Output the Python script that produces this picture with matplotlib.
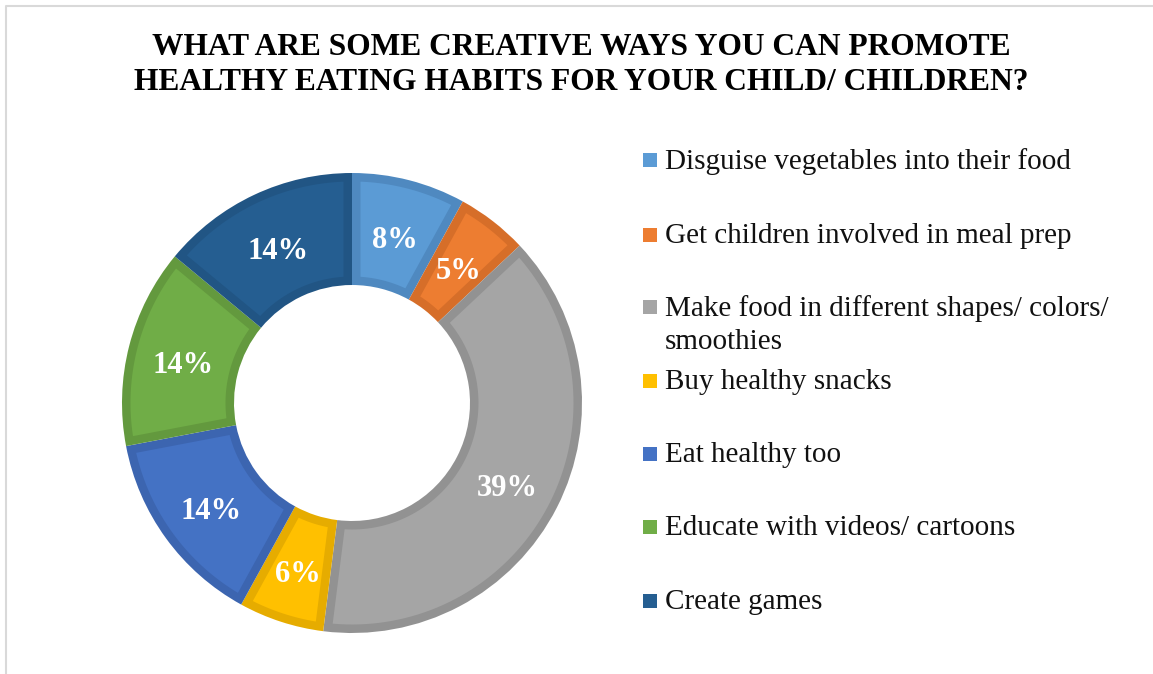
import matplotlib
matplotlib.use("Agg")
import matplotlib.pyplot as plt
from matplotlib.patches import Rectangle, Polygon
import matplotlib.transforms as mtransforms
import numpy as np

categories = [
    "Disguise vegetables into their food",
    "Get children involved in meal prep",
    "Make food in different shapes/ colors/\nsmoothies",
    "Buy healthy snacks",
    "Eat healthy too",
    "Educate with videos/ cartoons",
    "Create games",
]
shares = [8, 5, 39, 6, 14, 14, 14]
fill_colors = ["#5B9BD5", "#ED7D31", "#A5A5A5", "#FFC000", "#4472C4", "#70AD47", "#255E91"]
edge_colors = ["#4F89C0", "#D66E29", "#929292", "#E6AC00", "#3C65B0", "#63993E", "#215584"]
title = "WHAT ARE SOME CREATIVE WAYS YOU CAN PROMOTE\nHEALTHY EATING HABITS FOR YOUR CHILD/ CHILDREN?"

W, H = 1153, 674
DPI = 100
plt.rcParams["font.family"] = ["Liberation Serif", "DejaVu Serif"]

fig = plt.figure(figsize=(W / DPI, H / DPI), dpi=DPI)
fig.patch.set_facecolor("white")

# light frame around the chart area (left and top edges visible)
frame = plt.Line2D([6 / W, 6 / W, 1.0], [0.0, 1 - 6 / H, 1 - 6 / H],
                   transform=fig.transFigure, color="#D9D9D9", lw=1.5)
fig.add_artist(frame)

fig.text(581 / W, 1 - 65 / H, title, ha="center", va="center",
         fontsize=22.7, fontweight="bold", linespacing=1.3)

# donut
cx, cy, R = 352, 403, 230
ax = fig.add_axes([(cx - R) / W, (H - cy - R) / H, 2 * R / W, 2 * R / H])
ring_width = 0.487
r_in = 1 - ring_width
wedges, _ = ax.pie(shares, colors=edge_colors, startangle=90, counterclock=False,
                   radius=1.0, wedgeprops=dict(width=ring_width, linewidth=0))

# lighter inner face of every segment, inset by a constant band
band = 8.5 / R


def inset_sector(t1, t2, ri, ro, d, n=80):
    r_lo, r_hi = ri + d, ro - d
    def bounds(r):
        off = np.rad2deg(np.arcsin(min(d / r, 0.99)))
        return t1 + off, t2 - off
    a1, a2 = bounds(r_hi)
    outer = [(r_hi * np.cos(np.deg2rad(a)), r_hi * np.sin(np.deg2rad(a)))
             for a in np.linspace(a1, a2, n)]
    b1, b2 = bounds(r_lo)
    inner = [(r_lo * np.cos(np.deg2rad(a)), r_lo * np.sin(np.deg2rad(a)))
             for a in np.linspace(b2, b1, n)]
    return outer + inner


for w, fc in zip(wedges, fill_colors):
    pts = inset_sector(w.theta1, w.theta2, r_in, 1.0, band)
    ax.add_patch(Polygon(pts, closed=True, facecolor=fc, edgecolor="none"))

label_shift = mtransforms.ScaledTranslation(0, -4.5 / 72, fig.dpi_scale_trans)
mid_r = 1 - ring_width / 2
cum = 0
for v in shares:
    ang = np.deg2rad(90 - 360 * (cum + v / 2) / sum(shares))
    cum += v
    ax.text(mid_r * np.cos(ang), mid_r * np.sin(ang), f"{v}%", ha="center", va="center",
            color="white", fontsize=22, fontweight="bold",
            transform=ax.transData + label_shift)
ax.set_xlim(-1, 1)
ax.set_ylim(-1, 1)
ax.set_aspect("equal")
ax.axis("off")

# legend
row_y = [160, 235, 307, 381, 454, 527, 601]
for lab, col, y in zip(categories, fill_colors, row_y):
    fig.add_artist(Rectangle((643 / W, 1 - (y + 7) / H), 14 / W, 14 / H,
                             transform=fig.transFigure, facecolor=col, edgecolor="none"))
    fig.text(665 / W, 1 - (y - 12) / H, lab, ha="left", va="top",
             fontsize=21, color="#111111", linespacing=1.36)

fig.savefig("out.png", dpi=DPI, facecolor="white")
